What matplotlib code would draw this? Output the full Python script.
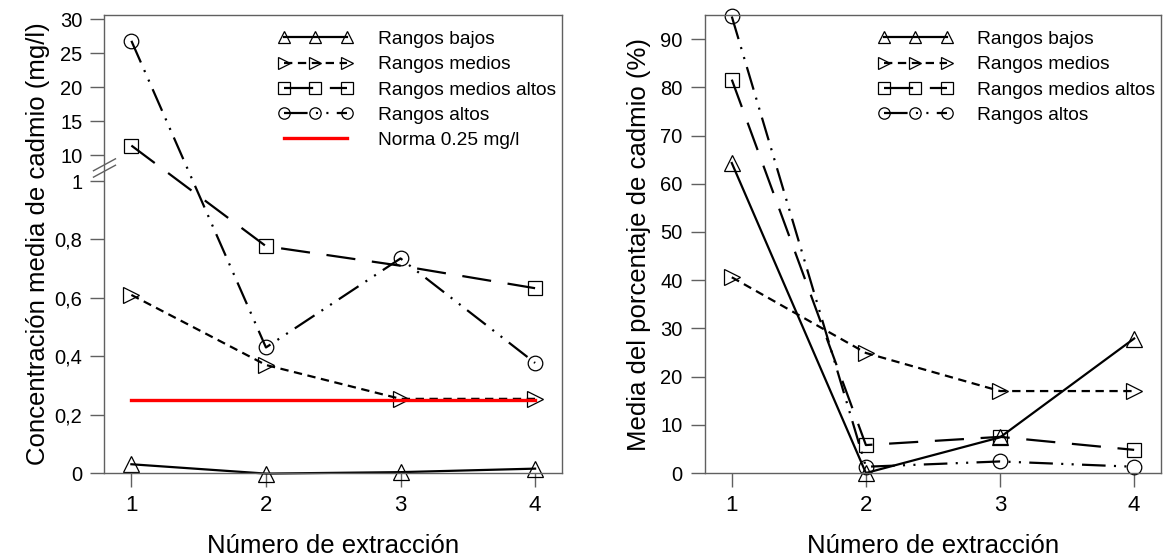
import matplotlib.pyplot as plt
import numpy as np

plt.rcParams['font.family'] = ['Liberation Sans', 'DejaVu Sans']
plt.rcParams['lines.scale_dashes'] = False

extraccion = [1, 2, 3, 4]

# concentracion media (mg/l)
conc_bajos = [0.03, -0.002, 0.003, 0.015]
conc_medios = [0.61, 0.37, 0.254, 0.254]
conc_medios_altos = [11.4, 0.777, 0.71, 0.633]
conc_altos = [26.8, 0.43, 0.735, 0.377]
norma = [0.25, 0.25, 0.25, 0.25]

# porcentaje medio (%)
pct_bajos = [64.3, 0.0, 7.4, 27.9]
pct_medios = [40.6, 24.9, 17.0, 17.0]
pct_medios_altos = [81.6, 5.8, 7.5, 4.8]
pct_altos = [94.7, 1.3, 2.4, 1.3]

labels = ["Rangos bajos", "Rangos medios", "Rangos medios altos", "Rangos altos"]

left_ticks = [0, 0.2, 0.4, 0.6, 0.8, 1, 10, 15, 20, 25, 30]
left_ticklabels = ["0", "0,2", "0,4", "0,6", "0,8", "1", "10", "15", "20", "25", "30"]
right_ticks = [0, 10, 20, 30, 40, 50, 60, 70, 80, 90]

GAP = 0.089
K = 0.02329


def fwd(y):
    y = np.asarray(y, float)
    return np.where(y <= 1, y, np.where(y < 10, 1 + (y - 1) / 9 * GAP, 1 + GAP + (y - 10) * K))


def inv(t):
    t = np.asarray(t, float)
    return np.where(t <= 1, t, np.where(t < 1 + GAP, 1 + (t - 1) / GAP * 9, 10 + (t - 1 - GAP) / K))


GREY = '#606060'
styles = [
    dict(marker='^', linestyle='-', ms=11),
    dict(marker='>', linestyle=(0, (6, 4)), ms=11),
    dict(marker='s', linestyle=(0, (21, 12)), ms=10.5),
    dict(marker='o', linestyle=(0, (17, 6, 1.5, 6, 1.5, 6)), ms=10.5),
]

fig = plt.figure(figsize=(11.66, 5.58), dpi=100)
ax1 = fig.add_axes([0.0896, 0.1523, 0.3924, 0.8208])
ax2 = fig.add_axes([0.6046, 0.1523, 0.3911, 0.8208])


def draw(ax, series, markevery_list):
    for vals, st, lab, me in zip(series, styles, labels, markevery_list):
        ax.plot(extraccion, vals, color='black', lw=1.6, marker=st['marker'],
                ms=st['ms'], mfc='none', mec='black', mew=0.9,
                linestyle=st['linestyle'], label=lab, markevery=me, clip_on=False)


draw(ax1, [conc_bajos, conc_medios, conc_medios_altos, conc_altos],
     [None, None, [0, 1, 3], None])
ax1.plot(extraccion, norma, color='#ff0000', lw=2.4, label="Norma 0.25 mg/l")
ax1.set_yscale('function', functions=(fwd, inv))
ax1.set_ylim(0, 30.6)
ax1.set_yticks(left_ticks)
ax1.set_yticklabels(left_ticklabels)
ax1.set_ylabel("Concentración media de cadmio (mg/l)", fontsize=18.5, labelpad=3)

# axis break marks
yb = 0.666
for dy in (-0.007, 0.007):
    ax1.plot([-0.024, 0.024], [yb - 0.013 + dy, yb + 0.013 + dy], transform=ax1.transAxes,
             color=GREY, lw=1.0, clip_on=False)

draw(ax2, [pct_bajos, pct_medios, pct_medios_altos, pct_altos], [None] * 4)
ax2.set_ylim(0, 95)
ax2.set_yticks(right_ticks)
ax2.set_ylabel("Media del porcentaje de cadmio (%)", fontsize=18.5, labelpad=7)

for ax in (ax1, ax2):
    ax.set_xlim(0.8, 4.2)
    ax.set_xticks(extraccion)
    ax.set_xlabel("Número de extracción", fontsize=18.5, labelpad=13)
    for sp in ax.spines.values():
        sp.set_color(GREY)
        sp.set_linewidth(1.0)
    ax.tick_params(axis='both', direction='out', length=10, width=1.0, color=GREY, pad=6)
    ax.tick_params(axis='y', labelsize=14.5)
    ax.tick_params(axis='x', labelsize=16)
    ax.legend(loc='upper left', bbox_to_anchor=(0.379, 0.966), frameon=False,
              fontsize=13.8, numpoints=3, markerscale=0.78, handlelength=3.9,
              handletextpad=1.3, labelspacing=0.41, borderpad=0, borderaxespad=0)

fig.savefig("out.png", dpi=100)
